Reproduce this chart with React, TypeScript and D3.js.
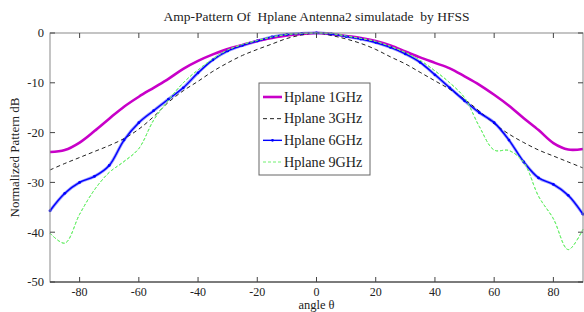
import * as d3 from 'd3'

const angles = d3.range(-90, 91, 5)
const hp1GHz = [-23.9, -23.5, -22.0, -19.7, -17.2, -14.8, -12.8, -11.0, -9.2, -7.2, -5.6, -4.3, -3.2, -2.4, -1.6, -1.0, -0.5, -0.2, 0, -0.2, -0.6, -1.0, -1.6, -2.5, -3.7, -4.9, -6.0, -7.1, -8.7, -10.4, -12.4, -14.6, -17.1, -19.5, -22.1, -23.4, -23.3]
const hp3GHz = [-27.5, -26.2, -25.0, -23.8, -22.6, -21.2, -19.3, -16.8, -13.9, -11.6, -9.7, -7.7, -6.0, -4.5, -3.3, -2.2, -1.1, -0.4, 0, -0.5, -1.2, -2.1, -3.3, -4.8, -6.2, -7.9, -9.6, -11.3, -13.3, -15.7, -18.2, -20.3, -22.0, -23.5, -24.7, -25.9, -27.1]
const hp6GHz = [-35.7, -32.2, -30.0, -28.8, -26.6, -21.5, -18.0, -15.6, -13.3, -11.0, -8.0, -5.4, -3.6, -2.5, -1.6, -0.8, -0.3, -0.1, 0, -0.2, -0.7, -1.2, -1.9, -2.9, -4.2, -5.9, -8.4, -11.0, -13.6, -16.0, -18.0, -21.5, -25.9, -29.1, -30.4, -32.6, -36.4]
const hp9GHz = [-40.2, -42.2, -36.4, -31.5, -28.0, -25.8, -23.2, -17.5, -13.5, -10.0, -7.4, -5.2, -3.4, -2.3, -1.5, -0.8, -0.3, -0.1, 0, -0.1, -0.6, -1.1, -1.7, -2.7, -3.9, -5.5, -7.6, -10.0, -13.0, -18.8, -23.5, -23.6, -26.0, -32.8, -37.3, -43.5, -39.4]
const xTicks = [-80, -60, -40, -20, 0, 20, 40, 60, 80]
const yTicks = [-50, -40, -30, -20, -10, 0]
const legendLabels = ['Hplane 1GHz', 'Hplane 3GHz', 'Hplane 6GHz', 'Hplane 9GHz']

const W = 584
const H = 312
const L = 50
const R = 583
const T = 33
const B = 282
const font = '"Liberation Serif", "Times New Roman", serif'

export default function App() {
  const x = d3.scaleLinear().domain([-90, 90]).range([L, R])
  const y = d3.scaleLinear().domain([-50, 0]).range([B, T])

  const line = (vals: number[]) =>
    d3
      .line<number>()
      .x((_, i) => x(angles[i]))
      .y((d) => y(d))
      .curve(d3.curveCatmullRom.alpha(0.5))(vals) || ''

  const series = [
    { vals: hp1GHz, color: '#c800c8', width: 2.6, dash: undefined },
    { vals: hp3GHz, color: '#222', width: 1, dash: '4,3' },
    { vals: hp6GHz, color: '#0000ff', width: 1.4, dash: undefined },
    { vals: hp9GHz, color: '#70f070', width: 1, dash: '3,2' },
  ]

  const ly = d3.scaleLinear().domain([0, 3]).range([97, 162])

  return (
    <svg width={W} height={H} style={{ position: 'absolute', left: 0, top: 0, background: '#fff' }} fontFamily={font}>
      <text x={(L + R) / 2} y={21} textAnchor="middle" fontSize={13.5} fill="#222" style={{ whiteSpace: 'pre' }}>
        {'Amp-Pattern Of  Hplane Antenna2 simulatade  by HFSS'}
      </text>

      {/* curves */}
      <path d={line(hp6GHz)} fill="none" stroke="#9a9aff" strokeWidth={3} />
      {series.map((s, i) => (
        <path key={i} d={line(s.vals)} fill="none" stroke={s.color} strokeWidth={s.width} strokeDasharray={s.dash} />
      ))}
      {hp6GHz.map((v, i) => (
        <circle key={i} cx={x(angles[i])} cy={y(v)} r={1.4} fill="#0000ff" />
      ))}
      <path d={line(hp9GHz)} fill="none" stroke="#70f070" strokeWidth={1} strokeDasharray="3,2" />

      {/* frame and ticks */}
      <rect x={L} y={T} width={R - L} height={B - T} fill="none" stroke="#8a8a8a" strokeWidth={1} />
      <line x1={L} x2={R} y1={B} y2={B} stroke="#333" />
      {xTicks.map((t) => (
        <g key={t}>
          <line x1={x(t)} x2={x(t)} y1={B} y2={B - 5} stroke="#444" />
          <line x1={x(t)} x2={x(t)} y1={T} y2={T + 5} stroke="#444" />
          <text x={x(t)} y={296} textAnchor="middle" fontSize={12} fill="#222">
            {t}
          </text>
        </g>
      ))}
      {yTicks.map((t) => (
        <g key={t}>
          <line x1={L} x2={L + 5} y1={y(t)} y2={y(t)} stroke="#444" />
          <line x1={R} x2={R - 5} y1={y(t)} y2={y(t)} stroke="#444" />
          <text x={44} y={y(t) + 4.3} textAnchor="end" fontSize={12.5} fill="#222">
            {t}
          </text>
        </g>
      ))}
      <text x={(L + R) / 2} y={308.5} textAnchor="middle" fontSize={12.5} fill="#222">
        angle θ
      </text>
      <text transform={`translate(19,${(T + B) / 2}) rotate(-90)`} textAnchor="middle" fontSize={13} fill="#222">
        Normalized Pattern dB
      </text>

      {/* legend */}
      <rect x={259} y={83} width={111} height={92} fill="#fff" stroke="#666" />
      {legendLabels.map((lab, i) => {
        const s = series[i]
        const cy = ly(i)
        return (
          <g key={lab}>
            <line x1={263} x2={282} y1={cy} y2={cy} stroke={s.color} strokeWidth={s.width} strokeDasharray={s.dash} />
            {i === 2 && <circle cx={272.5} cy={cy} r={1.4} fill="#0000ff" />}
            <text x={284} y={cy + 4.8} fontSize={14.2} fill="#222">
              {lab}
            </text>
          </g>
        )
      })}
    </svg>
  )
}
